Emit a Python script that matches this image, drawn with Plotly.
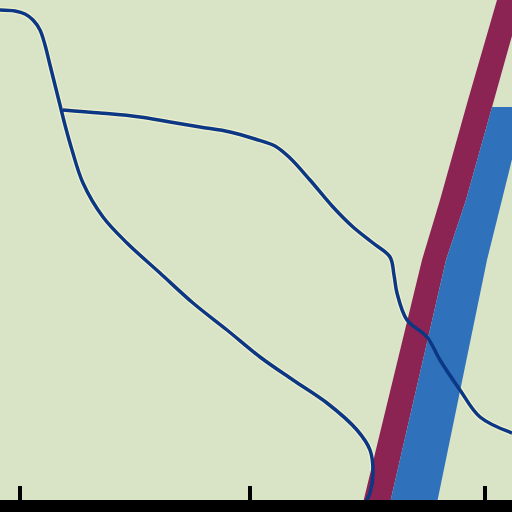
import plotly.graph_objects as go

# curve that drops from the top-left corner into the red band
fall_x = [0, 15, 25, 33, 40, 45, 50, 55, 60, 65, 72, 83, 103, 127, 160, 193, 227, 260, 293, 327,
          357, 370, 373, 370, 365]
fall_y = [10, 11, 14, 20, 30, 45, 65, 85, 105, 125, 150, 183, 217, 243, 273, 303, 330, 357, 380,
          403, 430, 450, 473, 493, 503]

# curve that starts at the crossing and runs off the right edge
shelf_x = [63, 100, 140, 170, 200, 230, 255, 275, 290, 310, 333, 353, 373, 390, 394, 397, 407,
           427, 440, 460, 480, 512]
shelf_y = [110, 113, 117, 122, 127, 132, 139, 146, 158, 180, 207, 227, 243, 257, 275, 293, 320,
           337, 360, 390, 417, 433]

# red band outline (left edge down, right edge back up)
red_x = [497, 468, 440, 422, 363, 390, 446, 466, 494, 522]
red_y = [0, 100, 200, 260, 503, 503, 260, 200, 100, 0]

# blue band outline
blue_x = [492, 466, 446, 390, 437, 487, 525]
blue_y = [107, 200, 260, 503, 503, 260, 107]

tick_pos = [20, 250, 485]

curves = [(fall_x, fall_y), (shelf_x, shelf_y)]

fig = go.Figure()

# pale fringe round the lines, hidden under the bands
for xs, ys in curves:
    fig.add_trace(go.Scatter(x=xs, y=ys, mode='lines', line_shape='spline',
                             line=dict(color='#eff1cc', width=6), hoverinfo='skip'))

fig.add_trace(go.Scatter(x=red_x, y=red_y, fill='toself', mode='none',
                         fillcolor='#8b2353', hoverinfo='skip'))
fig.add_trace(go.Scatter(x=blue_x, y=blue_y, fill='toself', mode='none',
                         fillcolor='#2f72bb', hoverinfo='skip'))

for xs, ys in curves:
    fig.add_trace(go.Scatter(x=xs, y=ys, mode='lines', line_shape='spline',
                             line=dict(color='#0b3784', width=3.5), hoverinfo='skip'))

fig.update_layout(
    width=512, height=512,
    margin=dict(l=0, r=0, t=0, b=12),
    showlegend=False,
    paper_bgcolor='#000000',
    plot_bgcolor='#d9e4c6',
    xaxis=dict(range=[0, 512], showgrid=False, zeroline=False, showticklabels=False,
               ticks='inside', tickvals=tick_pos, ticklen=14, tickwidth=4, tickcolor='#000000',
               showline=True, linecolor='#000000', linewidth=2, fixedrange=True),
    yaxis=dict(range=[500, 0], showgrid=False, zeroline=False, showticklabels=False,
               fixedrange=True),
)

fig.write_html("out.html", config={'displayModeBar': False},
               post_script="document.body.style.margin='0';")
